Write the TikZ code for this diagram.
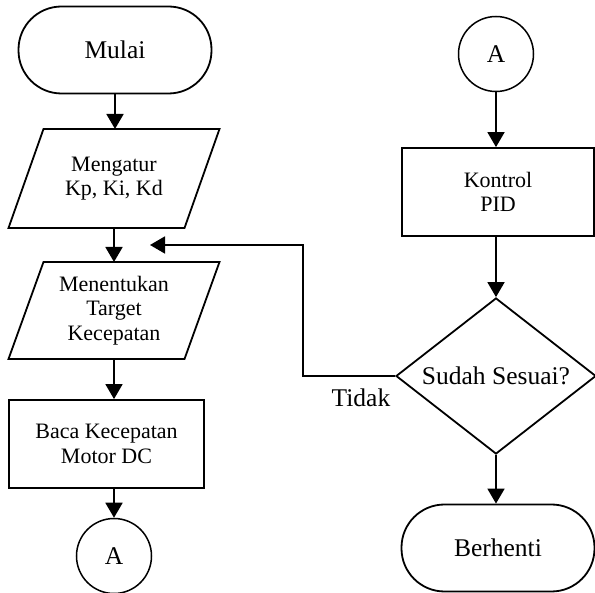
\documentclass[tikz,border=0pt]{standalone}
\usepackage{fontspec}
\setmainfont{Liberation Serif}
\usetikzlibrary{shapes.geometric,arrows.meta}
\begin{document}
\begin{tikzpicture}[x=1pt,y=-1pt,
  line width=1.8pt,
  big/.style={font=\fontsize{25.5}{28}\selectfont},
  small/.style={font=\fontsize{22}{24.5}\selectfont},
  term/.style={draw,rectangle,rounded corners=43pt,minimum width=193pt,minimum height=87pt,inner sep=0pt,big},
  proc/.style={draw,rectangle,minimum width=194pt,minimum height=88pt,inner sep=0pt,small,align=center},
  io/.style={rectangle,minimum width=176pt,inner sep=0pt,outer sep=0pt,small,align=center},
  para/.style={line join=miter},
  conn/.style={draw,circle,minimum size=75pt,inner sep=0pt,line width=1.5pt,big},
  dec/.style={draw,diamond,minimum width=200pt,minimum height=156pt,aspect=1.28,inner sep=0pt,big},
  arr/.style={-{Triangle[width=17pt,length=15pt]}}
]
\useasboundingbox (0,0) rectangle (595,593);
% left column
\node[term] (start) at (115,50) {Mulai};
\node[io,minimum height=99pt] (p1) at (114,178.5) {Mengatur\\Kp, Ki, Kd};
\draw[para] ([xshift=17.5pt]p1.north west) -- ([xshift=17.5pt]p1.north east)
  -- ([xshift=-17.5pt]p1.south east) -- ([xshift=-17.5pt]p1.south west) -- cycle;
\node[io,minimum height=97pt] (p2) at (114,310.5) {Menentukan\\Target\\Kecepatan};
\draw[para] ([xshift=17.5pt]p2.north west) -- ([xshift=17.5pt]p2.north east)
  -- ([xshift=-17.5pt]p2.south east) -- ([xshift=-17.5pt]p2.south west) -- cycle;
\node[proc,minimum width=195pt] (baca) at (106.5,444) {Baca Kecepatan\\Motor DC};
\node[conn] (a1) at (114,556) {A};
% right column
\node[conn] (a2) at (496,54) {A};
\node[proc,minimum width=192pt] (pid) at (498,192) {Kontrol\\PID};
\node[dec] (dec) at (496,376) {Sudah Sesuai?};
\node[term] (stop) at (498,548) {Berhenti};
\node[big] (tidak) at (361,398) {Tidak};
\coordinate (ret) at (150,245);
% arrows
\draw[arr] (start.south) -- (start.south |- p1.north);
\draw[arr] (p1.south) -- (p1.south |- p2.north);
\draw[arr] (p2.south) -- (p2.south |- baca.north);
\draw[arr] (a1.north |- baca.south) -- (a1.north);
\draw[arr] (a2.south) -- (a2.south |- pid.north);
\draw[arr] (dec.north |- pid.south) -- (dec.north);
\draw[arr] (dec.south) -- (dec.south |- stop.north);
\draw[arr] (dec.west) -- ++(-92,0) |- (ret);
\end{tikzpicture}
\end{document}
